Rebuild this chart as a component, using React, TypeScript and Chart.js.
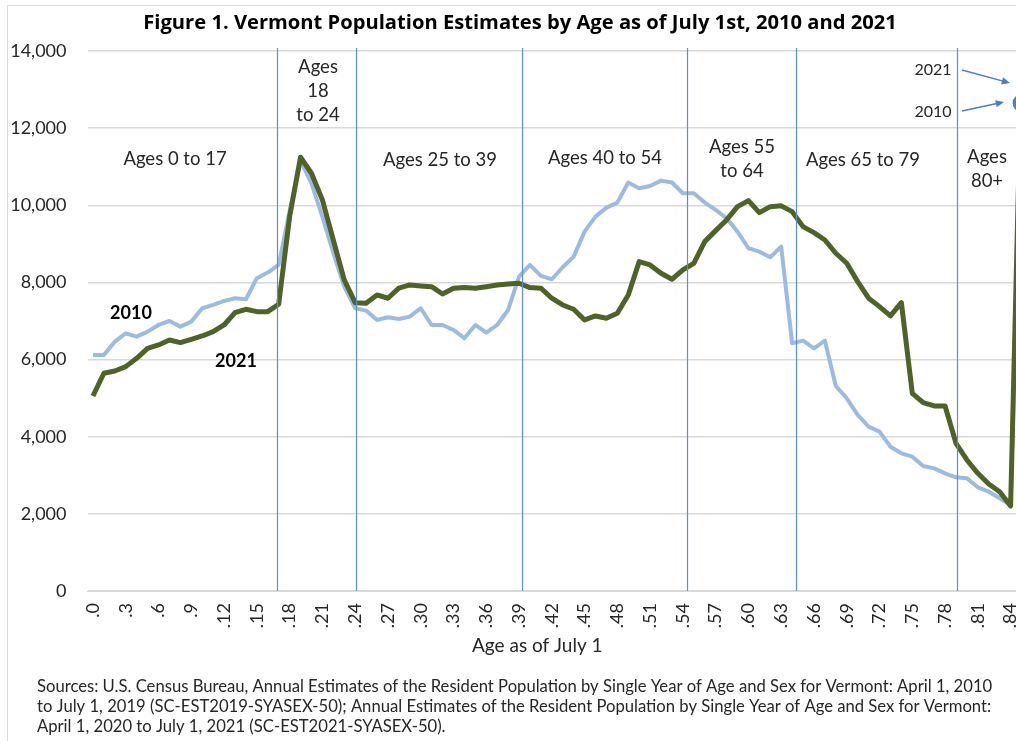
import React, { useEffect, useRef } from 'react';
import { Chart, registerables } from 'chart.js';

Chart.register(...registerables);

// Single years of age 0..85 (85 = 85+)
const ages: number[] = [
  0, 1, 2, 3, 4, 5, 6, 7, 8, 9, 10, 11, 12, 13, 14, 15, 16, 17, 18, 19, 20,
  21, 22, 23, 24, 25, 26, 27, 28, 29, 30, 31, 32, 33, 34, 35, 36, 37, 38, 39, 40,
  41, 42, 43, 44, 45, 46, 47, 48, 49, 50, 51, 52, 53, 54, 55, 56, 57, 58, 59, 60,
  61, 62, 63, 64, 65, 66, 67, 68, 69, 70, 71, 72, 73, 74, 75, 76, 77, 78, 79, 80,
  81, 82, 83, 84, 85,
];
const ageLabels: string[] = ages.map((a) => '.' + a);

const pop2010: number[] = [
  6120, 6120, 6465, 6680, 6595, 6725, 6897, 7000, 6854, 6984, 7330, 7416, 7520, 7590, 7565, 8108, 8255, 8453,
  9850, 11158, 10570, 9705, 8765, 7890, 7330,
  7270, 7027, 7097, 7050, 7113, 7330, 6897, 6897, 6768, 6552, 6897, 6698, 6897, 7286, 8150,
  8453, 8168, 8082, 8393, 8669, 9317, 9706, 9940, 10070, 10590, 10442, 10500, 10640, 10590, 10313,
  10313, 10070, 9880, 9664, 9317, 8886, 8798, 8653, 8928, 6422,
  6490, 6293, 6490, 5316, 4996, 4564, 4261, 4131, 3742, 3570, 3483, 3241, 3180, 3051, 2947,
  2921, 2688, 2575, 2403, 2230, 12650,
];

const pop2021: number[] = [
  5056, 5645, 5705, 5817, 6033, 6292, 6379, 6508, 6440, 6526, 6612, 6724, 6897, 7217, 7304, 7243, 7243, 7434,
  9700, 11245, 10830, 10140, 9100, 8065, 7476,
  7460, 7675, 7590, 7850, 7935, 7910, 7890, 7700, 7850, 7870, 7850, 7890, 7935, 7960, 7980,
  7866, 7850, 7590, 7416, 7304, 7027, 7131, 7070, 7200, 7675, 8540, 8453, 8237, 8082, 8324,
  8497, 9058, 9343, 9620, 9965, 10120, 9810, 9965, 9985, 9835,
  9447, 9291, 9101, 8756, 8497, 8021, 7590, 7373, 7131, 7476, 5126, 4883, 4797, 4797, 3830,
  3397, 3051, 2774, 2575, 2204, 13800,
];

const yMin = 0;
const yMax = 14000;
const yStep = 2000;

// Age-group divider lines (in age units) and their labels
const dividerAges: number[] = [16.85, 24.1, 39.3, 54.4, 64.4, 79.1];
const groupLabels: string[][] = [
  ['Ages 0 to 17'],
  ['Ages', '18', 'to 24'],
  ['Ages 25 to 39'],
  ['Ages 40 to 54'],
  ['Ages 55', 'to 64'],
  ['Ages 65 to 79'],
  ['Ages', '80+'],
];
const groupLabelPos = [
  { x: 175, y: 159 },
  { x: 318, y: 67 },
  { x: 440, y: 160 },
  { x: 605, y: 158 },
  { x: 742, y: 147 },
  { x: 863, y: 160 },
  { x: 987, y: 157 },
];

const titleText = 'Figure 1. Vermont Population Estimates by Age as of July 1st, 2010 and 2021';
const xAxisTitle = 'Age as of July 1';
const sourceLines: string[] = [
  'Sources: U.S. Census Bureau, Annual Estimates of the Resident Population by Single Year of Age and Sex for Vermont: April 1, 2010',
  'to July 1, 2019 (SC-EST2019-SYASEX-50); Annual Estimates of the Resident Population by Single Year of Age and Sex for Vermont:',
  'April 1, 2020 to July 1, 2021 (SC-EST2021-SYASEX-50).',
];

const FONT = 'Lato, "Open Sans", sans-serif';
const TITLE_FONT = '"Open Sans", Lato, sans-serif';
const BLUE_LINE = '#9dbbe1';
const GREEN_LINE = '#4f6228';
const DIVIDER = '#5b8fd0';
const TEXT = '#262626';

function fitSize(ctx: CanvasRenderingContext2D, text: string, weight: string, family: string, target: number) {
  ctx.font = `${weight} 20px ${family}`;
  const w = ctx.measureText(text).width;
  return (20 * target) / w;
}

function drawArrow(ctx: CanvasRenderingContext2D, x1: number, y1: number, x2: number, y2: number) {
  const ang = Math.atan2(y2 - y1, x2 - x1);
  const head = 9;
  ctx.beginPath();
  ctx.moveTo(x1, y1);
  ctx.lineTo(x2 - Math.cos(ang) * head * 0.8, y2 - Math.sin(ang) * head * 0.8);
  ctx.stroke();
  ctx.beginPath();
  ctx.moveTo(x2, y2);
  ctx.lineTo(x2 - head * Math.cos(ang - 0.42), y2 - head * Math.sin(ang - 0.42));
  ctx.lineTo(x2 - head * Math.cos(ang + 0.42), y2 - head * Math.sin(ang + 0.42));
  ctx.closePath();
  ctx.fill();
}

const overlayPlugin = {
  id: 'overlay',
  afterDatasetsDraw(chart: any) {
    const ctx: CanvasRenderingContext2D = chart.ctx;
    const xs = chart.scales.x;
    const { top, bottom } = chart.chartArea;
    ctx.save();
    ctx.strokeStyle = DIVIDER;
    ctx.lineWidth = 1.2;
    dividerAges.forEach((a) => {
      const px = Math.round(xs.getPixelForValue(a)) + 0.5;
      ctx.beginPath();
      ctx.moveTo(px, top - 3);
      ctx.lineTo(px, bottom);
      ctx.stroke();
    });
    ctx.restore();
  },
  afterDraw(chart: any) {
    const ctx: CanvasRenderingContext2D = chart.ctx;
    ctx.save();
    // outer frame
    ctx.strokeStyle = '#d9d9d9';
    ctx.lineWidth = 1;
    ctx.strokeRect(7.5, 5.5, 2000, 2000);

    // title
    ctx.fillStyle = '#000';
    ctx.textAlign = 'center';
    ctx.textBaseline = 'middle';
    const ts = fitSize(ctx, titleText, 'bold', TITLE_FONT, 754);
    ctx.font = `bold ${ts}px ${TITLE_FONT}`;
    ctx.fillText(titleText, 520, 23);

    // group labels
    ctx.fillStyle = TEXT;
    ctx.font = `18.5px ${FONT}`;
    groupLabels.forEach((lines, i) => {
      const p = groupLabelPos[i];
      lines.forEach((l, j) => ctx.fillText(l, p.x, p.y + j * 24));
    });

    // series labels
    ctx.fillStyle = '#000';
    ctx.font = `bold 18px ${FONT}`;
    ctx.fillText('2010', 131, 313);
    ctx.fillText('2021', 236, 361);

    // top-right arrow labels
    ctx.fillStyle = TEXT;
    ctx.font = `16px ${FONT}`;
    ctx.fillText('2021', 933, 70);
    ctx.fillText('2010', 933, 112);
    ctx.strokeStyle = '#4a7ec4';
    ctx.fillStyle = '#4a7ec4';
    ctx.lineWidth = 1.5;
    drawArrow(ctx, 962, 70, 1010, 83);
    drawArrow(ctx, 962, 111, 1004, 102);

    // x axis title
    ctx.fillStyle = TEXT;
    ctx.font = `19px ${FONT}`;
    ctx.textAlign = 'left';
    ctx.fillText(xAxisTitle, 472, 646);

    // sources
    const ss = fitSize(ctx, sourceLines[0], '', FONT, 956);
    ctx.font = `${ss}px ${FONT}`;
    sourceLines.forEach((l, i) => ctx.fillText(l, 37, 687 + i * 20));
    ctx.restore();
  },
};

export default function App() {
  const ref = useRef<HTMLCanvasElement>(null);
  useEffect(() => {
    if (!ref.current) return;
    const lastIdx = ages.length - 1;
    const chart = new Chart(ref.current, {
      type: 'line',
      data: {
        labels: ageLabels,
        datasets: [
          {
            label: '2021',
            data: pop2021,
            borderColor: GREEN_LINE,
            borderWidth: 5,
            pointRadius: 0,
            tension: 0,
            fill: false,
            borderJoinStyle: 'round',
          },
          {
            label: '2010',
            data: pop2010,
            borderColor: BLUE_LINE,
            borderWidth: 4,
            pointRadius: ages.map((_, i) => (i === lastIdx ? 7 : 0)),
            pointBackgroundColor: '#4f80c0',
            pointBorderColor: '#4f80c0',
            tension: 0,
            fill: false,
            borderJoinStyle: 'round',
          },
        ],
      },
      options: {
        responsive: false,
        devicePixelRatio: 1,
        animation: false,
        layout: { padding: { top: 51, left: 0, right: 3, bottom: 0 } },
        plugins: {
          legend: { display: false },
          title: { display: false },
          tooltip: { enabled: false },
        },
        scales: {
          x: {
            type: 'category',
            offset: true,
            grid: { display: false, drawTicks: false },
            border: { display: true, color: '#d9d9d9', width: 1 },
            ticks: {
              autoSkip: false,
              maxRotation: 90,
              minRotation: 90,
              padding: 12,
              color: TEXT,
              font: { family: FONT, size: 18 },
              callback: (_v: any, i: number) => (i % 3 === 0 ? ageLabels[i] : ''),
            },
            afterFit: (s: any) => {
              s.height = 150;
              s.paddingLeft = 0;
              s.paddingRight = 0;
            },
          },
          y: {
            min: yMin,
            max: yMax,
            grid: { color: '#d9d9d9', lineWidth: 1.5, drawTicks: false },
            border: { display: false },
            ticks: {
              stepSize: yStep,
              padding: 21,
              color: TEXT,
              font: { family: FONT, size: 18 },
              callback: (v: any) => Number(v).toLocaleString('en-US'),
            },
            afterFit: (s: any) => {
              s.width = 87.5;
              s.paddingTop = 0;
              s.paddingBottom = 0;
            },
          },
        },
      },
      plugins: [overlayPlugin],
    });
    return () => chart.destroy();
  }, []);
  return (
    <div
      style={{
        position: 'fixed',
        left: 0,
        top: 0,
        width: 1016,
        height: 741,
        overflow: 'hidden',
        background: '#fff',
      }}
    >
      <canvas ref={ref} width={1038} height={741} style={{ display: 'block', width: 1038, height: 741 }} />
    </div>
  );
}
